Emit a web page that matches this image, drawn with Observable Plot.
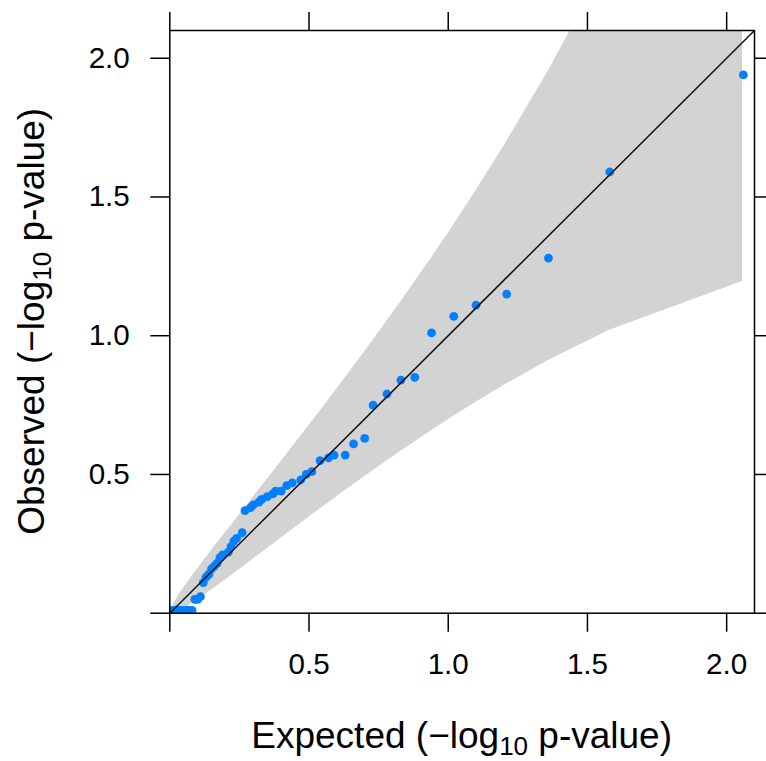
<!DOCTYPE html>
<html><head><meta charset="utf-8">
<script src="https://cdn.jsdelivr.net/npm/d3@7"></script>
<script src="https://cdn.jsdelivr.net/npm/@observablehq/plot@0.6"></script>
<style>
html,body{margin:0;padding:0;background:#fff;}
#chart svg text{white-space:pre;}
</style>
</head><body><div id="chart"></div>
<script>
// Points (thinned: rounded to 2 places)
const expected = [2.06,1.58,1.36,1.21,1.10,1.02,0.94,0.88,0.83,0.78,0.73,0.70,0.66,0.63,0.59,0.57,0.54,0.51,0.49,0.47,0.44,0.42,0.40,0.38,0.37,0.35,0.33,0.32,0.30,0.29,0.27,0.26,0.24,0.23,0.22,0.21,0.19,0.18,0.17,0.16,0.15,0.14,0.13,0.12,0.11,0.10,0.09,0.08,0.07,0.06,0.05,0.04,0.03,0.02,0.01,0.00];
const observed = [1.94,1.59,1.28,1.15,1.11,1.07,1.01,0.85,0.84,0.79,0.75,0.63,0.61,0.57,0.57,0.56,0.55,0.51,0.50,0.48,0.47,0.46,0.44,0.44,0.43,0.42,0.41,0.40,0.39,0.38,0.37,0.29,0.27,0.26,0.24,0.22,0.21,0.20,0.18,0.17,0.16,0.14,0.13,0.11,0.06,0.05,0.05,0.01,0.01,0.01,0.01,0.01,0.01,0.01,0.01,0.01];

// Confidence band
const bandX = [0.0116,0.0195,0.0275,0.0357,0.0441,0.0526,0.0613,0.0701,0.0792,0.0884,0.0979,0.1075,0.1275,0.1378,0.1484,0.1704,0.1818,0.1936,0.2308,0.2716,0.2860,0.3326,0.3493,0.4037,0.4658,0.5128,0.5655,0.6255,0.6952,0.7782,0.8265,0.8808,0.9430,1.0155,1.1027,1.2118,1.3579,1.5798,2.0569];
const bandLower = [0.0002,0.0019,0.0049,0.0087,0.0129,0.0178,0.0230,0.0285,0.0343,0.0405,0.0468,0.0535,0.0675,0.0748,0.0824,0.0984,0.1068,0.1155,0.1432,0.1739,0.1848,0.2200,0.2326,0.2737,0.3204,0.3556,0.3946,0.4387,0.4890,0.5477,0.5812,0.6183,0.6598,0.7069,0.7620,0.8274,0.9096,1.0199,1.1955];
const bandUpper = [0.029,0.044,0.057,0.070,0.083,0.095,0.107,0.120,0.132,0.145,0.157,0.170,0.197,0.210,0.224,0.253,0.267,0.282,0.330,0.382,0.401,0.460,0.482,0.551,0.632,0.693,0.762,0.842,0.936,1.050,1.117,1.195,1.285,1.393,1.527,1.703,1.951,2.361,3.345];

const axisLimits = [0, 2.1];
const tickValues = [0, 0.5, 1, 1.5, 2];
const tickLabels = ["", "0.5", "1.0", "1.5", "2.0"];
const xTitle = ["Expected (\u2212log", "10", " p-value)"];
const yTitle = ["Observed (\u2212log", "10", " p-value)"];

const FONT = "'Liberation Sans', Arial, Helvetica, sans-serif";
const W = 766, H = 761;
const mL = 169.3, mR = 12, mT = 30, mB = 148.3;

const points = expected.map((e, i) => ({e, o: observed[i]}));
const band = bandX.map((x, i) => ({x, lo: bandLower[i], hi: bandUpper[i]}));
const diag = axisLimits.map(v => ({x: v, y: v}));
const fmt = d => tickLabels[tickValues.indexOf(d)];

const plot = Plot.plot({
  width: W, height: H,
  marginLeft: mL, marginRight: mR, marginTop: mT, marginBottom: mB,
  style: {fontFamily: FONT, fontSize: "29.6px", color: "#000", background: "#fff"},
  x: {domain: axisLimits},
  y: {domain: axisLimits},
  marks: [
    Plot.areaY(band, {x: "x", y1: "lo", y2: "hi", fill: "#d3d3d3", clip: true}),
    Plot.dot(points, {x: "e", y: "o", r: 4.4, fill: "#0080ff", stroke: null, clip: true}),
    Plot.line(diag, {x: "x", y: "y", stroke: "#111", strokeWidth: 1.5, clip: true}),
    Plot.frame({stroke: "#000", strokeWidth: 1.5}),
    Plot.axisX(tickValues, {anchor: "bottom", tickSize: 19, tickPadding: 21, tickFormat: fmt, fontSize: 29.6, strokeWidth: 1.5, label: null}),
    Plot.axisX(tickValues, {anchor: "top", tickSize: 19, tickFormat: () => "", strokeWidth: 1.5, label: null}),
    Plot.axisY(tickValues, {anchor: "left", tickSize: 19, tickPadding: 21, tickFormat: fmt, fontSize: 29.6, strokeWidth: 1.5, label: null}),
    Plot.axisY(tickValues, {anchor: "right", tickSize: 19, tickFormat: () => "", strokeWidth: 1.5, label: null})
  ]
});
document.getElementById("chart").appendChild(plot);

const svg = d3.select(plot);
function addTitle(parts, transform) {
  const t = svg.append("text")
    .attr("transform", transform)
    .attr("text-anchor", "middle")
    .attr("font-family", FONT)
    .attr("font-size", 37)
    .attr("fill", "#000");
  t.append("tspan").text(parts[0]);
  t.append("tspan").attr("font-size", 26).attr("dy", 7).text(parts[1]);
  t.append("tspan").attr("dy", -7).text(parts[2]);
}
const xc = (mL + (W - mR)) / 2;
const yc = (mT + (H - mB)) / 2;
addTitle(xTitle, `translate(${xc},748)`);
addTitle(yTitle, `translate(44,${yc}) rotate(-90)`);
</script>
</body></html>
